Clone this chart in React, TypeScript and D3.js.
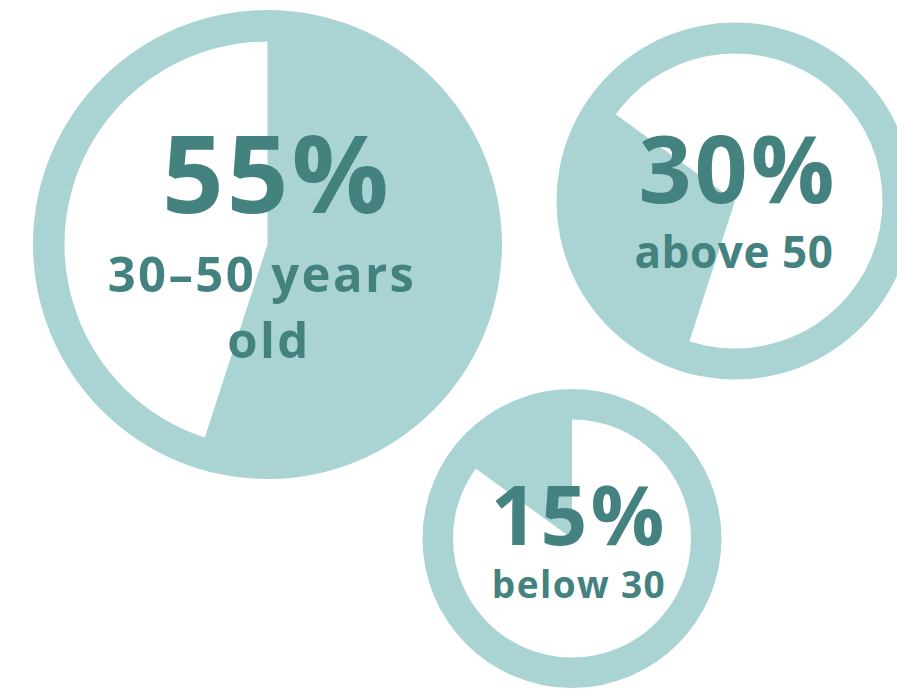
import React from "react";
import * as d3 from "d3";

const categories = ["30–50 years old", "above 50", "below 30"];
const percentLabels = ["55%", "30%", "15%"];
const values = [55, 30, 15];
const subLines = [["30–50 years", "old"], ["above 50"], ["below 30"]];

const W = 897;
const H = 689;
const LIGHT = "#aad4d4";
const DARK = "#43827f";

// layout of each bubble (position, size) – not data
const bubbles = [
  { cx: 267.5, cy: 244.5, r: 234.5, ir: 203, big: 108, small: 49, tx: 277, ty: 213, sx: [262, 269], sy: 292, lh: 66, ls: 2.4 },
  { cx: 735, cy: 201, r: 178.5, ir: 147.5, big: 93, small: 44, tx: 738, ty: 203, sx: [734], sy: 268, lh: 0, ls: 0.6 },
  { cx: 572, cy: 538.5, r: 149.5, ir: 119, big: 82, small: 37, tx: 579, ty: 545, sx: [579], sy: 598, lh: 0, ls: 1.4 },
];

export default function App() {
  const pie = d3.pie<number>().sort(null).value((d) => d);
  const arcsData = pie(values);
  const FONT = "'Open Sans', 'Noto Sans', sans-serif";
  return (
    <svg width={W} height={H} style={{ position: "absolute", left: 0, top: 0, background: "#fff" }}>
      {bubbles.map((b, i) => {
        const ring = d3.arc()({ innerRadius: b.ir, outerRadius: b.r, startAngle: 0, endAngle: 2 * Math.PI } as any) as string;
        const a = arcsData[i];
        const wedge = d3.arc()({ innerRadius: 0, outerRadius: b.ir + 1, startAngle: a.startAngle, endAngle: a.endAngle } as any) as string;
        return (
          <g key={categories[i]}>
            <g transform={`translate(${b.cx},${b.cy})`}>
              <path d={ring} fill={LIGHT} />
              <path d={wedge} fill={LIGHT} />
            </g>
            <text
              x={b.tx}
              y={b.ty}
              textAnchor="middle"
              fill={DARK}
              fontFamily={FONT}
              fontWeight={700}
              fontSize={b.big}
              letterSpacing={3}
            >
              {percentLabels[i]}
            </text>
            {subLines[i].map((line, j) => (
              <text
                key={j}
                x={b.sx[j]}
                y={b.sy + j * b.lh}
                textAnchor="middle"
                fill={DARK}
                fontFamily={FONT}
                fontWeight={700}
                fontSize={b.small}
                letterSpacing={b.ls}
              >
                {line}
              </text>
            ))}
          </g>
        );
      })}
    </svg>
  );
}
